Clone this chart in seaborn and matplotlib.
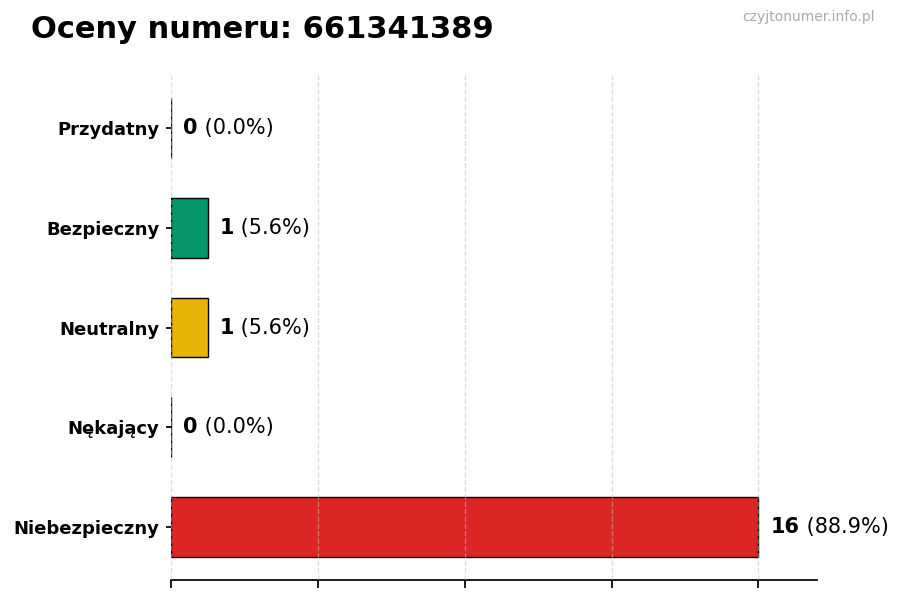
import matplotlib
matplotlib.use("Agg")
import matplotlib.pyplot as plt
import seaborn as sns
import pandas as pd

# dane
categories = ["Przydatny", "Bezpieczny", "Neutralny", "Nękający", "Niebezpieczny"]
counts = [0, 1, 1, 0, 16]
colors = ["#2563eb", "#059669", "#eab308", "#f97316", "#dc2626"]
numer = "661341389"

sns.set_theme(style="white")
plt.rcParams['font.family'] = ['DejaVu Sans']
plt.rcParams['text.color'] = 'black'
plt.rcParams['xtick.color'] = 'black'
plt.rcParams['ytick.color'] = 'black'

total = sum(counts)
df = pd.DataFrame({"kategoria": categories, "liczba": counts})

fig = plt.figure(figsize=(9, 6), dpi=100)
ax = fig.add_axes([0.19, 0.0333, 0.718, 0.8417])

sns.barplot(data=df, x="liczba", y="kategoria", hue="kategoria",
            palette=colors, saturation=1, orient="h", width=0.6,
            edgecolor="black", linewidth=1, legend=False, ax=ax)

# zakresy jak w zwykłym barh z domyślnymi marginesami
ax.set_xlim(0, max(counts) * 1.1)
n = len(categories)
span = (n - 1) + 0.6
ax.set_ylim(n - 1 + 0.3 + 0.05 * span, -0.3 - 0.05 * span)

ax.set_xticks(range(0, max(counts) + 1, 4))
ax.set_xticklabels([])
ax.tick_params(axis="x", length=6, bottom=True)
ax.tick_params(axis="y", length=3.5, left=True, pad=5)
ax.xaxis.grid(True, linestyle="--", color="#bbbbbb", alpha=0.5)
ax.set_axisbelow(False)
ax.set_xlabel("")
ax.set_ylabel("")
for lbl in ax.get_yticklabels():
    lbl.set_fontweight("bold")
    lbl.set_fontsize(13)
    lbl.set_color("black")

sns.despine(ax=ax, left=True, top=True, right=True)
ax.spines["bottom"].set_color("black")

for i, c in enumerate(counts):
    pct = 100.0 * c / total
    t = ax.text(c + 0.33, i, f"{c}", ha="left", va="center",
                fontsize=15, fontweight="bold", color="black")
    ax.annotate(f" ({pct:.1f}%)", xy=(1, 0.5), xycoords=t,
                ha="left", va="center", fontsize=15, color="black")

fig.text(0.034, 0.95, f"Oceny numeru: {numer}", fontsize=22,
         fontweight="bold", ha="left", va="center", color="black")
fig.text(0.972, 0.972, "czyjtonumer.info.pl", fontsize=10,
         color="#aaaaaa", ha="right", va="center")

fig.savefig("out.png", dpi=100)
